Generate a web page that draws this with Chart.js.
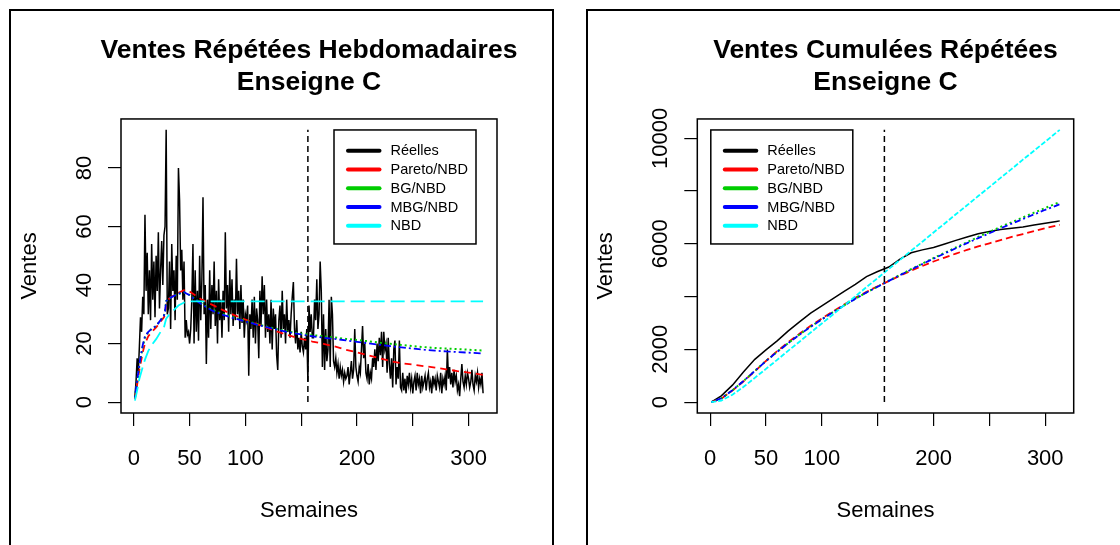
<!DOCTYPE html>
<html>
<head>
<meta charset="utf-8">
<script src="https://cdn.jsdelivr.net/npm/chart.js@4.4.0/dist/chart.umd.min.js"></script>
<style>
html,body{margin:0;padding:0;background:#fff;}
body{width:1120px;height:545px;position:relative;overflow:hidden;}
.frame{position:absolute;border:2px solid #000;border-bottom:none;box-sizing:border-box;}
#f1{left:9px;top:9px;width:545px;height:560px;}
#f2{left:586px;top:9px;width:600px;height:560px;border-right:none;}
canvas{position:absolute;top:0;}
#c1{left:0;}
#c2{left:560px;}
</style>
</head>
<body>
<div class="frame" id="f1"></div>
<div class="frame" id="f2"></div>
<canvas id="c1" width="618" height="545"></canvas>
<canvas id="c2" width="651" height="545"></canvas>
<script>
const FONT = '"Liberation Sans", Arial, Helvetica, sans-serif';

const seriesNames  = ['Réelles', 'Pareto/NBD', 'BG/NBD', 'MBG/NBD', 'NBD'];
const seriesColors = ['#000000', '#FF0000', '#00CD00', '#0000FF', '#00FFFF'];

const titleWeekly = ['Ventes Répétées Hebdomadaires', 'Enseigne C'];
const titleCum    = ['Ventes Cumulées Répétées', 'Enseigne C'];
const xAxisTitle = 'Semaines';
const yAxisTitle = 'Ventes';

// weekly repeat sales, weeks 1..313
const weeklyActual = [
  2, 7, 15, 10, 19, 29, 24, 36, 30, 64,
  38, 51, 30, 45, 28, 54, 35, 48, 29, 50,
  38, 58, 32, 45, 55, 40, 57, 60, 93, 30,
  32, 48, 25, 54, 38, 45, 28, 50, 35, 80,
  69, 45, 52, 35, 48, 22, 28, 23, 24, 20,
  25, 35, 54, 20, 45, 24, 38, 21, 50, 28,
  42, 70, 30, 40, 13, 35, 22, 45, 25, 40,
  30, 48, 26, 38, 20, 42, 28, 35, 22, 38,
  28, 58, 32, 40, 24, 45, 30, 42, 26, 35,
  28, 49, 30, 38, 25, 40, 27, 35, 22, 30,
  28, 33, 9, 30, 25, 35, 22, 36, 20, 32,
  28, 15, 38, 26, 43, 30, 40, 22, 35, 24,
  30, 20, 35, 18, 32, 25, 30, 16, 11, 28,
  33, 22, 38, 25, 30, 20, 35, 24, 28, 22,
  30, 36, 41, 25, 20, 28, 18, 22, 17, 24,
  19, 17, 22, 18, 25, 7, 33, 24, 30, 22,
  22, 35, 28, 42, 25, 30, 48, 38, 12, 30,
  11, 25, 14, 18, 35, 12, 36, 30, 14, 12,
  15, 10, 13, 8, 12, 9, 11, 7, 10, 8,
  9, 12, 6, 10, 14, 8, 11, 25, 12, 9,
  7, 12, 10, 18, 26, 15, 20, 10, 8, 13,
  6, 10, 8, 15, 12, 18, 11, 20, 14, 22,
  16, 24, 12, 24, 18, 20, 10, 22, 13, 8,
  15, 5, 18, 21, 6, 12, 8, 21, 5, 4,
  10, 4, 8, 3, 9, 6, 10, 5, 8, 3,
  7, 9, 4, 10, 6, 8, 3, 9, 5, 7,
  9, 4, 8, 10, 5, 7, 3, 9, 6, 8,
  4, 9, 7, 5, 10, 3, 8, 6, 9, 4,
  18, 8, 12, 6, 10, 5, 11, 7, 9, 4,
  6, 2, 8, 13, 7, 5, 9, 6, 10, 8,
  5, 7, 11, 6, 4, 9, 7, 10, 5, 8,
  6, 10, 3
];

// weekly model curves
const modelWeeks = [1, 3, 5, 8, 10, 13, 16, 20, 24, 27, 28, 29, 32, 36, 40, 45, 50, 55, 60, 70, 80, 90, 100, 110, 120, 130, 140, 150, 160, 170, 180, 190, 200, 210, 220, 230, 240, 250, 260, 270, 280, 290, 300, 313];
const weeklyPareto = [1, 6, 11, 17, 20, 22.5, 24, 25.5, 27.5, 29, 30, 34, 35.5, 36.5, 37.3, 38.2, 37.8, 36.5, 35.2, 33.3, 31.4, 29.7, 28.2, 26.7, 25.3, 23.9, 22.7, 21.6, 20.7, 19.9, 19, 17.9, 17, 16, 15, 14, 13.3, 12.8, 12.3, 11.8, 11.2, 10.6, 10.1, 9.3];
const weeklyBG     = [1.5, 7, 12.5, 19, 22, 24, 25, 26, 28, 29.5, 31, 34.5, 35.5, 36.3, 37, 37.5, 36.6, 35.2, 33.8, 31.6, 30.1, 28.9, 27.8, 26.7, 25.7, 24.8, 24, 23.4, 22.9, 22.5, 22.1, 21.6, 21.2, 20.8, 20.3, 19.9, 19.5, 19.1, 18.8, 18.5, 18.3, 18.1, 17.9, 17.6];
const weeklyMBG    = [1.5, 7.5, 13, 19.5, 22.5, 24, 25, 26, 28, 29.5, 31, 34.5, 35.5, 36.3, 37, 37.5, 36.5, 35, 33.6, 31.3, 29.8, 28.6, 27.6, 26.5, 25.5, 24.6, 23.8, 23.1, 22.5, 22, 21.6, 21.1, 20.6, 20.1, 19.6, 19.1, 18.7, 18.3, 17.9, 17.6, 17.3, 17.1, 16.9, 16.6];
const weeklyNBD    = [0.5, 4, 8, 12, 14.5, 17.5, 19.5, 21.5, 24, 25.5, 27, 28.5, 30, 31.5, 33, 34, 34.4, 34.4, 34.4, 34.4, 34.4, 34.4, 34.4, 34.4, 34.4, 34.4, 34.4, 34.4, 34.4, 34.4, 34.4, 34.4, 34.4, 34.4, 34.4, 34.4, 34.4, 34.4, 34.4, 34.4, 34.4, 34.4, 34.4, 34.4];

// cumulative curves
const cumWeeks  = [1, 10, 20, 30, 40, 50, 60, 70, 80, 90, 100, 110, 120, 130, 140, 150, 160, 170, 180, 190, 200, 210, 220, 230, 240, 250, 260, 270, 280, 290, 300, 310, 313];
const cumActual = [2, 236, 644, 1150, 1620, 1980, 2320, 2700, 3040, 3370, 3650, 3920, 4200, 4460, 4760, 4950, 5120, 5420, 5660, 5770, 5860, 5990, 6130, 6260, 6380, 6470, 6540, 6590, 6640, 6710, 6780, 6850, 6870];
const cumPareto = [0, 130, 440, 790, 1170, 1560, 1930, 2270, 2590, 2890, 3170, 3440, 3700, 3950, 4180, 4390, 4590, 4790, 4980, 5160, 5330, 5480, 5630, 5770, 5900, 6020, 6140, 6260, 6370, 6480, 6590, 6690, 6720];
const cumBG     = [0, 140, 450, 800, 1180, 1560, 1910, 2240, 2560, 2860, 3140, 3410, 3670, 3920, 4160, 4380, 4600, 4820, 5040, 5250, 5460, 5660, 5860, 6060, 6260, 6450, 6640, 6820, 7000, 7180, 7360, 7530, 7580];
const cumMBG    = [0, 145, 455, 805, 1180, 1555, 1905, 2235, 2555, 2855, 3135, 3405, 3665, 3915, 4155, 4375, 4595, 4810, 5025, 5235, 5440, 5635, 5830, 6025, 6215, 6400, 6585, 6765, 6940, 7115, 7290, 7450, 7500];
const cumNBD    = [0, 60, 280, 580, 920, 1260, 1600, 1950, 2290, 2640, 2980, 3320, 3670, 4010, 4360, 4700, 5050, 5390, 5740, 6080, 6430, 6770, 7120, 7460, 7810, 8150, 8500, 8840, 9190, 9530, 9870, 10220, 10320];

const calibrationWeek = 156;

const xTickValues = [0, 50, 100, 150, 200, 250, 300];
const xTickLabels = ['0', '50', '100', '', '200', '', '300'];
const yTickValuesWeekly = [0, 20, 40, 60, 80];
const yTickLabelsWeekly = ['0', '20', '40', '60', '80'];
const yTickValuesCum = [0, 2000, 4000, 6000, 8000, 10000];
const yTickLabelsCum = ['0', '2000', '', '6000', '', '10000'];

// ---------- helpers ----------
function pairs(xs, ys) { return ys.map((y, i) => ({x: xs[i], y: y})); }
function rRange(lo, hi) { const d = (hi - lo) * 0.04; return [lo - d, hi + d]; }

const weekIdx = weeklyActual.map((_, i) => i + 1);
const xr = rRange(1, weekIdx[weekIdx.length - 1]);

const stylesWeekly = [
  {w: 1.5, dash: []},
  {w: 1.8, dash: [7, 5]},
  {w: 2, dash: [2, 3]},
  {w: 1.8, dash: [2, 3, 7, 3]},
  {w: 1.8, dash: [14, 6]}
];
const stylesCum = [
  {w: 1.5, dash: []},
  {w: 1.8, dash: [7, 4]},
  {w: 2, dash: [2, 3]},
  {w: 1.8, dash: [2, 3, 6, 3]},
  {w: 1.8, dash: [5, 2]}
];

const decor = {
  id: 'decor',
  afterDraw(chart, args, o) {
    const {ctx, chartArea: a, scales} = chart;
    ctx.save();
    ctx.strokeStyle = '#000';
    ctx.lineWidth = 1.5;
    ctx.setLineDash([]);
    ctx.strokeRect(a.left, a.top, a.right - a.left, a.bottom - a.top);
    // y tick labels (rotated as in R)
    ctx.fillStyle = '#000';
    ctx.font = '22px ' + FONT;
    ctx.textAlign = 'center';
    ctx.textBaseline = 'middle';
    o.yValues.forEach((v, i) => {
      const lab = o.yLabels[i];
      if (!lab) return;
      const py = scales.y.getPixelForValue(v);
      ctx.save();
      ctx.translate(a.left - 36, py);
      ctx.rotate(-Math.PI / 2);
      ctx.fillText(lab, 0, 0);
      ctx.restore();
    });
    // legend
    const bw = 142, bh = 114;
    const bx = o.legendRight ? a.right - 21 - bw : a.left + 13.5;
    const by = a.top + 11;
    ctx.fillStyle = '#fff';
    ctx.fillRect(bx, by, bw, bh);
    ctx.lineWidth = 1.5;
    ctx.strokeStyle = '#000';
    ctx.strokeRect(bx, by, bw, bh);
    ctx.font = '14.5px ' + FONT;
    ctx.textAlign = 'left';
    seriesNames.forEach((name, i) => {
      const yy = by + 20.7 + i * 18.8;
      ctx.strokeStyle = seriesColors[i];
      ctx.lineWidth = 4;
      ctx.lineCap = 'round';
      ctx.beginPath();
      ctx.moveTo(bx + 14, yy);
      ctx.lineTo(bx + 45.5, yy);
      ctx.stroke();
      ctx.fillStyle = '#000';
      ctx.fillText(name, bx + 56.5, yy + 0.5);
    });
    ctx.restore();
  }
};

function makeChart(canvasId, cfg) {
  const datasets = [];
  datasets.push({
    data: [{x: calibrationWeek, y: 0}, {x: calibrationWeek, y: cfg.vTop}],
    borderColor: '#000', borderWidth: 1.5, borderDash: [6, 4],
    pointRadius: 0, fill: false, order: 0
  });
  cfg.series.forEach((s, i) => {
    datasets.push({
      label: seriesNames[i],
      data: s,
      borderColor: seriesColors[i],
      borderWidth: cfg.styles[i].w,
      borderDash: cfg.styles[i].dash,
      pointRadius: 0, fill: false, tension: 0,
      order: i === 0 ? 10 : 5 - i + 1
    });
  });
  return new Chart(document.getElementById(canvasId), {
    type: 'line',
    data: {datasets},
    options: {
      responsive: false,
      animation: false,
      devicePixelRatio: 1,
      events: [],
      layout: {padding: 0},
      plugins: {
        legend: {display: false},
        tooltip: {enabled: false},
        title: {
          display: true, text: cfg.title, color: '#000', fullSize: true,
          font: {family: FONT, size: 26.5, weight: 'bold', lineHeight: 1.22},
          padding: {top: 34.3, bottom: 20}
        },
        decor: {yValues: cfg.yValues, yLabels: cfg.yLabels, legendRight: cfg.legendRight}
      },
      scales: {
        x: {
          type: 'linear', min: xr[0], max: xr[1],
          afterBuildTicks: s => { s.ticks = xTickValues.map(v => ({value: v})); },
          afterFit: s => { s.height = 132; },
          grid: {drawOnChartArea: false, drawTicks: true, tickLength: 13, color: '#000', tickColor: '#000', lineWidth: 1.2},
          border: {display: false},
          ticks: {
            autoSkip: false, maxRotation: 0, minRotation: 0, padding: 20,
            color: '#000', font: {family: FONT, size: 22},
            callback: (v, i) => xTickLabels[i]
          },
          title: {display: true, text: xAxisTitle, color: '#000', font: {family: FONT, size: 22}, padding: {top: 0, bottom: 21}}
        },
        y: {
          type: 'linear', position: 'left', min: cfg.yr[0], max: cfg.yr[1],
          afterBuildTicks: s => { s.ticks = cfg.yValues.map(v => ({value: v})); },
          afterFit: s => { s.width = cfg.yWidth; },
          grid: {drawOnChartArea: false, drawTicks: true, tickLength: 13, color: '#000', tickColor: '#000', lineWidth: 1.2},
          border: {display: false},
          ticks: {display: false},
          title: {display: true, text: yAxisTitle, color: '#000', font: {family: FONT, size: 22}, padding: {top: cfg.yTitlePad, bottom: 0}}
        },
        yBalance: {
          type: 'linear', position: 'right', display: true,
          afterFit: s => { s.width = cfg.yWidth; },
          grid: {display: false, drawTicks: false},
          border: {display: false},
          ticks: {display: false},
          title: {display: false}
        }
      }
    },
    plugins: [decor]
  });
}

const maxWeekly = Math.max(...weeklyActual);
const maxCum = Math.max(...cumNBD, ...cumActual);

makeChart('c1', {
  title: titleWeekly,
  series: [
    pairs(weekIdx, weeklyActual),
    pairs(modelWeeks, weeklyPareto),
    pairs(modelWeeks, weeklyBG),
    pairs(modelWeeks, weeklyMBG),
    pairs(modelWeeks, weeklyNBD)
  ],
  styles: stylesWeekly,
  vTop: maxWeekly,
  yr: rRange(0, maxWeekly),
  yValues: yTickValuesWeekly, yLabels: yTickLabelsWeekly,
  yWidth: 121, yTitlePad: 17, legendRight: true
});

makeChart('c2', {
  title: titleCum,
  series: [
    pairs(cumWeeks, cumActual),
    pairs(cumWeeks, cumPareto),
    pairs(cumWeeks, cumBG),
    pairs(cumWeeks, cumMBG),
    pairs(cumWeeks, cumNBD)
  ],
  styles: stylesCum,
  vTop: maxCum,
  yr: rRange(0, maxCum),
  yValues: yTickValuesCum, yLabels: yTickLabelsCum,
  yWidth: 137.3, yTitlePad: 33, legendRight: false
});
</script>
</body>
</html>
